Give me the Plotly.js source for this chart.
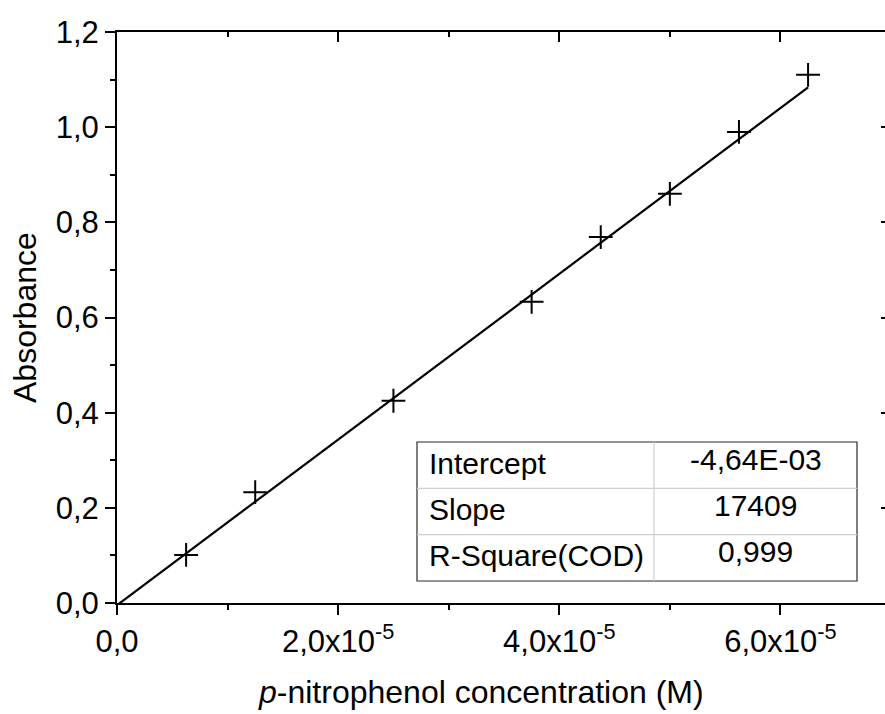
<!DOCTYPE html>
<html>
<head>
<meta charset="utf-8">
<script src="https://cdn.plot.ly/plotly-3.0.1.min.js"></script>
<style>
  html, body { margin: 0; padding: 0; background: #fff; overflow: hidden; }
  #chart { width: 891px; height: 714px; }
</style>
</head>
<body>
<div id="chart"></div>
<script>
// Calibration standards: p-nitrophenol concentration (M) and measured absorbance
const concentration = [6.25e-6, 1.25e-5, 2.5e-5, 3.75e-5, 4.375e-5, 5.0e-5, 5.625e-5, 6.25e-5];
const absorbance    = [0.101, 0.233, 0.425, 0.633, 0.769, 0.860, 0.990, 1.110];

// Linear fit parameters (shown in the table)
const intercept = -4.64e-3;
const slope = 17409;
const rSquare = 0.999;

// Fit results table
const tableLabels = ['Intercept', 'Slope', 'R-Square(COD)'];
const tableValues = ['-4,64E-03', '17409', '0,999'];

// Axis ticks
const xTickVals = [0, 2e-5, 4e-5, 6e-5];
const xTickText = ['0,0', '2,0x10<sup>-5</sup>', '4,0x10<sup>-5</sup>', '6,0x10<sup>-5</sup>'];
const xMinorVals = [1e-5, 3e-5, 5e-5];

const FONT = 'Liberation Sans, Arial, sans-serif';

// Plot-area geometry in pixels (used for the table and titles placed in paper space)
const L = 117, R = 891, T = 32, B = 603;
const px = x => (x - L) / (R - L);
const py = y => (B - y) / (B - T);

// Fitted line evaluated from the fit parameters
const fitX = [0, concentration[concentration.length - 1]];
const fitY = fitX.map(x => intercept + slope * x);

const traces = [
  {
    x: concentration, y: absorbance, type: 'scatter', mode: 'markers',
    marker: { symbol: 'cross-thin', size: 17, color: '#000', line: { color: '#000', width: 2 } },
    hoverinfo: 'skip', showlegend: false
  },
  {
    x: fitX, y: fitY, type: 'scatter', mode: 'lines',
    line: { color: '#000', width: 2.2 },
    hoverinfo: 'skip', showlegend: false
  },
  { x: [], y: [], xaxis: 'x2', yaxis: 'y2', type: 'scatter', mode: 'markers', hoverinfo: 'skip', showlegend: false }
];

const axisCommon = {
  showgrid: false, zeroline: false, showline: true,
  linecolor: '#000', linewidth: 2,
  tickcolor: '#000', tickwidth: 2, ticklen: 10,
  tickfont: { family: FONT, size: 31, color: '#000' }
};

// Table frame and cell separators
const rowTop = 442, rowH = (581 - 442) / 3, colL = 417, colM = 654, colR = 857;
const shapes = [
  { type: 'rect', xref: 'paper', yref: 'paper', x0: px(colL), x1: px(colR), y0: py(581), y1: py(442),
    line: { color: '#2a2a2a', width: 1.2 }, fillcolor: '#fff', layer: 'above' },
  { type: 'line', xref: 'paper', yref: 'paper', x0: px(colM), x1: px(colM), y0: py(581), y1: py(442),
    line: { color: '#cfcfcf', width: 1.2 } }
];
for (let i = 1; i < tableLabels.length; i++) {
  const y = rowTop + i * rowH;
  shapes.push({ type: 'line', xref: 'paper', yref: 'paper', x0: px(colL), x1: px(colR), y0: py(y), y1: py(y),
    line: { color: '#cfcfcf', width: 1.2 } });
}

const annotations = [];
tableLabels.forEach((lab, i) => {
  const yc = rowTop + (i + 0.5) * rowH;
  annotations.push({ text: lab, xref: 'paper', yref: 'paper', x: px(427), y: py(yc - 2),
    xanchor: 'left', yanchor: 'middle', showarrow: false, font: { family: FONT, size: 30, color: '#000' } });
  annotations.push({ text: tableValues[i], xref: 'paper', yref: 'paper', x: px((colM + colR) / 2), y: py(yc - 6),
    xanchor: 'center', yanchor: 'middle', showarrow: false, font: { family: FONT, size: 30, color: '#000' } });
});

// Axis titles
annotations.push({ text: 'Absorbance', xref: 'paper', yref: 'paper', x: px(24.5), y: py(317.5),
  xanchor: 'center', yanchor: 'middle', textangle: -90, showarrow: false,
  font: { family: FONT, size: 32, color: '#000' } });
annotations.push({ text: '<i>p</i>-nitrophenol concentration (M)', xref: 'paper', yref: 'paper', x: px(480.5), y: py(692),
  xanchor: 'center', yanchor: 'middle', showarrow: false,
  font: { family: FONT, size: 32, color: '#000' } });

const layout = {
  width: 891, height: 714,
  margin: { l: L, r: 891 - R, t: T, b: 714 - B, pad: 0 },
  paper_bgcolor: '#fff', plot_bgcolor: '#fff',
  separators: ',.',
  showlegend: false,
  xaxis: Object.assign({}, axisCommon, {
    range: [0, 7e-5], tickmode: 'array', tickvals: xTickVals, ticktext: xTickText, ticks: 'outside',
    minor: { tickmode: 'array', tickvals: xMinorVals, ticks: 'outside', ticklen: 5, tickwidth: 2, tickcolor: '#000' }
  }),
  yaxis: Object.assign({}, axisCommon, {
    range: [0, 1.2], tickmode: 'linear', tick0: 0, dtick: 0.2, tickformat: '.1f', ticks: 'outside',
    minor: { tickmode: 'linear', tick0: 0, dtick: 0.1, ticks: 'outside', ticklen: 5, tickwidth: 2, tickcolor: '#000' }
  }),
  xaxis2: Object.assign({}, axisCommon, {
    overlaying: 'x', side: 'top', anchor: 'y', range: [0, 7e-5],
    tickmode: 'array', tickvals: xTickVals, ticks: 'inside', showticklabels: false,
    minor: { tickmode: 'array', tickvals: xMinorVals, ticks: 'inside', ticklen: 5, tickwidth: 2, tickcolor: '#000' }
  }),
  yaxis2: Object.assign({}, axisCommon, {
    overlaying: 'y', side: 'right', anchor: 'x', range: [0, 1.2],
    tickmode: 'linear', tick0: 0, dtick: 0.2, ticks: 'inside', showticklabels: false,
    minor: { tickmode: 'linear', tick0: 0, dtick: 0.1, ticks: 'inside', ticklen: 5, tickwidth: 2, tickcolor: '#000' }
  }),
  shapes: shapes,
  annotations: annotations
};

Plotly.newPlot('chart', traces, layout, { staticPlot: true, displayModeBar: false });
</script>
</body>
</html>
